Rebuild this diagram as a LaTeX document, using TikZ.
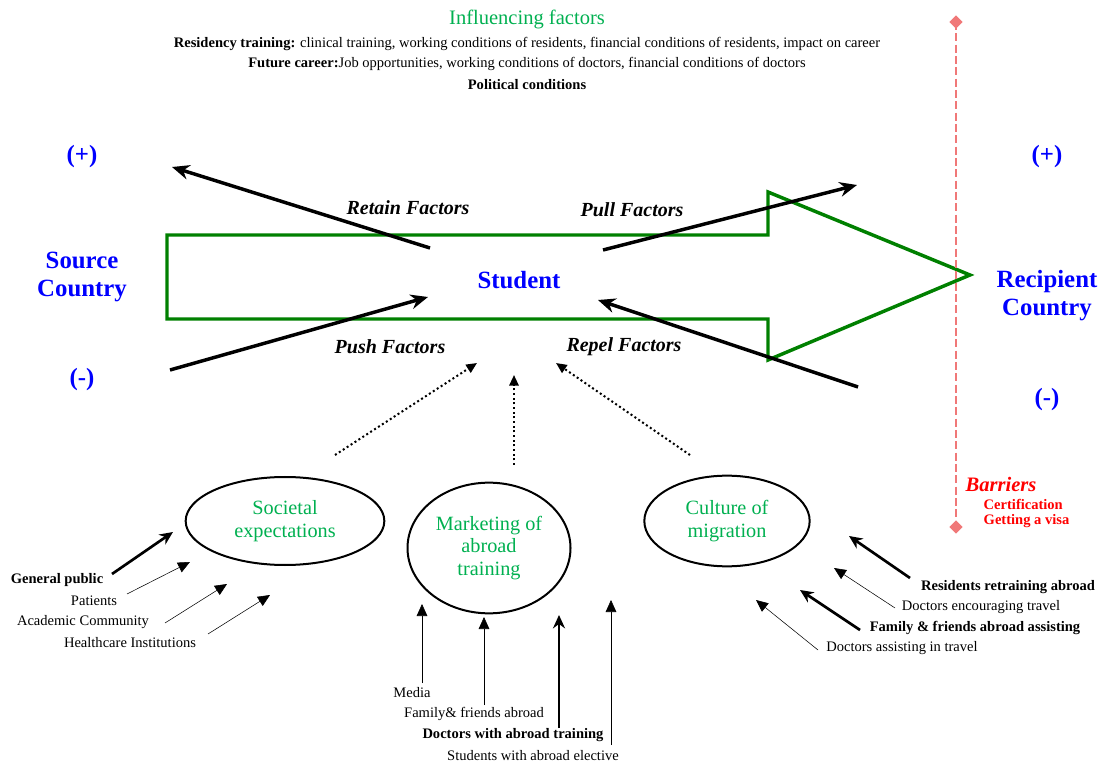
\documentclass[tikz,border=0pt]{standalone}
\usepackage{fontspec}
\setmainfont{Liberation Serif}
\usetikzlibrary{arrows.meta,shapes.geometric}
\definecolor{MigGreen}{HTML}{008000}
\definecolor{FactorGreen}{HTML}{00B050}
\definecolor{BarrierRed}{HTML}{F07878}
\tikzset{
  force/.style={line width=2.6pt, -{Stealth[length=13pt,width=11pt]}},
  strong/.style={line width=2pt, -{Stealth[length=10pt,width=9pt]}},
  weak/.style={line width=0.4pt, -{Triangle[length=9pt,width=8pt]}},
  hint/.style={line width=1.5pt, dotted, -{Triangle[length=8pt,width=7pt]}},
  bubble/.style={draw, ellipse, line width=1.5pt, align=center, text=FactorGreen, font=\fontsize{15.2}{17}\selectfont},
  factor/.style={font=\fontsize{15}{17}\selectfont\bfseries\itshape},
  side/.style={text=blue, font=\fontsize{18.6}{21}\selectfont\bfseries, align=center},
  small/.style={font=\fontsize{10.9}{13}\selectfont},
  smallbold/.style={font=\fontsize{10.9}{13}\selectfont\bfseries}
}
\begin{document}
\begin{tikzpicture}[x=0.75pt, y=-0.75pt]
  \useasboundingbox (0,0) rectangle (1099,762);
  % influencing factors
  \node[text=FactorGreen, font=\fontsize{15.4}{17}\selectfont] (infl) at (527,19) {Influencing factors};
  \node[small] (resid) at (527,44) {\textbf{Residency training:} clinical training, working conditions of residents, financial conditions of residents, impact on career};
  \node[small] (career) at (527,64) {\textbf{Future career:}Job opportunities, working conditions of doctors, financial conditions of doctors};
  \node[smallbold] (polit) at (527,85) {Political conditions};

  % migration arrow
  \draw[MigGreen, line width=2.6pt, line join=miter]
    (167,235) -- (768,235) -- (768,192) -- (970,275) -- (768,360) -- (768,319) -- (167,319) -- cycle;
  \node[text=blue, font=\fontsize{18.6}{21}\selectfont\bfseries] (student) at (519,280) {Student};

  % countries
  \node[side] (source) at (82,277) {Source\\Country};
  \node[side] (recip) at (1047,296) {Recipient\\Country};
  \node[side] (splus) at (82,157) {(+)};
  \node[side] (sminus) at (82,380) {(-)};
  \node[side] (rplus) at (1047,157) {(+)};
  \node[side] (rminus) at (1047,400) {(-)};

  % barriers
  \coordinate (btop) at (956,22);
  \coordinate (bbot) at (956,527);
  \draw[BarrierRed, line width=1.5pt, dash pattern=on 6pt off 2.5pt] (btop) -- (bbot);
  \node[BarrierRed, diamond, fill, inner sep=2.5pt] (btopd) at (btop) {};
  \node[BarrierRed, diamond, fill, inner sep=2.5pt] (bbotd) at (bbot) {};
  \node[red, font=\fontsize{15.4}{17}\selectfont\bfseries\itshape, anchor=west] (barr) at (961,484) {Barriers};
  \node[red, font=\fontsize{10.9}{12}\selectfont\bfseries, anchor=west] (cert) at (979,504) {Certification};
  \node[red, font=\fontsize{10.9}{12}\selectfont\bfseries, anchor=west] (visa) at (979,521) {Getting a visa};

  % factors
  \coordinate (retainA) at (430,248);
  \coordinate (retainB) at (172,167);
  \coordinate (pullA) at (603,250);
  \coordinate (pullB) at (857,185);
  \coordinate (pushA) at (170,370);
  \coordinate (pushB) at (428,297);
  \coordinate (repelA) at (858,387);
  \coordinate (repelB) at (598,300);
  \draw[force] (retainA) -- (retainB);
  \draw[force] (pullA) -- (pullB);
  \draw[force] (pushA) -- (pushB);
  \draw[force] (repelA) -- (repelB);
  \node[factor] (retain) at (408,208) {Retain Factors};
  \node[factor] (pull) at (632,210) {Pull Factors};
  \node[factor] (push) at (390,347) {Push Factors};
  \node[factor] (repel) at (624,347) {Repel Factors};

  % influences
  \node[bubble, minimum width=149pt, minimum height=66pt] (soc) at (285,521) {Societal\\expectations};
  \node[bubble, minimum width=117pt, minimum height=98pt] (mkt) at (489,548) {Marketing of\\abroad\\training};
  \node[bubble, minimum width=124pt, minimum height=68pt] (cult) at (727,521) {Culture of\\migration};
  \coordinate (socUp) at (335,455);
  \coordinate (mktUp) at (514,465);
  \coordinate (cultUp) at (690,455);
  \coordinate (socTip) at (477,363);
  \coordinate (mktTip) at (514,375);
  \coordinate (cultTip) at (556,363);
  \draw[hint] (socUp) -- (socTip);
  \draw[hint] (mktUp) -- (mktTip);
  \draw[hint] (cultUp) -- (cultTip);

  % societal sources
  \node[smallbold] (gp) at (57,580) {General public};
  \node[small] (pat) at (94,601) {Patients};
  \node[small] (acad) at (83,622) {Academic Community};
  \node[small] (hci) at (130,643) {Healthcare Institutions};
  \coordinate (gpA) at (112,574);   \coordinate (gpB) at (173,532);
  \coordinate (patA) at (127,594);  \coordinate (patB) at (190,562);
  \coordinate (acadA) at (165,623); \coordinate (acadB) at (227,584);
  \coordinate (hciA) at (208,634);  \coordinate (hciB) at (270,595);
  \draw[strong] (gpA) -- (gpB);
  \draw[weak] (patA) -- (patB);
  \draw[weak] (acadA) -- (acadB);
  \draw[weak] (hciA) -- (hciB);

  % marketing sources
  \node[small] (media) at (412,693) {Media};
  \node[small] (fam) at (474,714) {Family\& friends abroad};
  \node[smallbold] (doc) at (513,735) {Doctors with abroad training};
  \node[small] (stud) at (533,756) {Students with abroad elective};
  \coordinate (mediaA) at (422,683); \coordinate (mediaB) at (422,604);
  \coordinate (famA) at (484,705);   \coordinate (famB) at (484,617);
  \coordinate (docA) at (559,728);   \coordinate (docB) at (559,615);
  \coordinate (studA) at (611,745);  \coordinate (studB) at (611,600);
  \draw[weak] (mediaA) -- (mediaB);
  \draw[weak] (famA) -- (famB);
  \draw[strong] (docA) -- (docB);
  \draw[weak] (studA) -- (studB);

  % culture sources
  \node[smallbold] (ret) at (1008,587) {Residents retraining abroad};
  \node[small] (enc) at (981,607) {Doctors encouraging travel};
  \node[smallbold] (ffa) at (975,628) {Family \& friends abroad assisting};
  \node[small] (ast) at (902,648) {Doctors assisting in travel};
  \coordinate (retA) at (910,578); \coordinate (retB) at (849,536);
  \coordinate (encA) at (895,608); \coordinate (encB) at (834,568);
  \coordinate (ffaA) at (860,630); \coordinate (ffaB) at (800,590);
  \coordinate (astA) at (818,650); \coordinate (astB) at (756,600);
  \draw[strong] (retA) -- (retB);
  \draw[weak] (encA) -- (encB);
  \draw[strong] (ffaA) -- (ffaB);
  \draw[weak] (astA) -- (astB);
\end{tikzpicture}
\end{document}
